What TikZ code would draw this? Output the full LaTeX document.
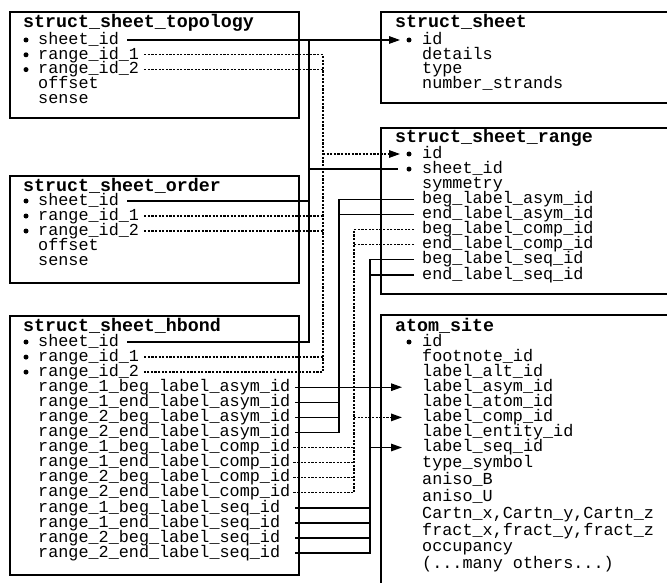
\documentclass[tikz,border=0pt]{standalone}
\usepackage{fontspec}
\setmonofont{Liberation Mono}
\usetikzlibrary{arrows.meta}

\tikzset{
  tbl/.style={draw, line width=1.9pt},
  ttl/.style={anchor=west, inner sep=0pt, text height=12pt, text depth=3pt,
    font=\ttfamily\bfseries\fontsize{18.3}{18.3}\selectfont},
  fld/.style={anchor=west, inner sep=0pt, text height=11pt, text depth=2.5pt,
    font=\ttfamily\fontsize{16.8}{15}\selectfont},
  key/.style={circle, fill, inner sep=0pt, minimum size=5pt},
  link/.style={line width=1.4pt},
  reflink/.style={link, dash pattern=on 2.2pt off 1.4pt},
  tip/.style={-{Triangle[length=11pt,width=7.5pt]}},
}

\begin{document}
\begin{tikzpicture}[x=1pt, y=-1pt]
\useasboundingbox (0,0) rectangle (667,583);
\clip (0,0) rectangle (667,583);

% ---------------- struct_sheet_topology
\draw[tbl] (10,12) rectangle (299,118);
\node[ttl] (topo) at (23,23) {struct\_sheet\_topology};
\node[fld] (topo-sheet) at (38,40) {sheet\_id};
\node[fld] (topo-r1) at (38,54.8) {range\_id\_1};
\node[fld] (topo-r2) at (38,69.6) {range\_id\_2};
\node[fld] (topo-off) at (38,84.4) {offset};
\node[fld] (topo-sense) at (38,99.2) {sense};
\node[key] (topo-sheet-k) at (26,40) {};
\node[key] (topo-r1-k) at (26,54.8) {};
\node[key] (topo-r2-k) at (26,69.6) {};

% ---------------- struct_sheet_order
\draw[tbl] (10,176) rectangle (299,283);
\node[ttl] (ord) at (23,186.7) {struct\_sheet\_order};
\node[fld] (ord-sheet) at (38,201) {sheet\_id};
\node[fld] (ord-r1) at (38,216) {range\_id\_1};
\node[fld] (ord-r2) at (38,231) {range\_id\_2};
\node[fld] (ord-off) at (38,246.3) {offset};
\node[fld] (ord-sense) at (38,261.6) {sense};
\node[key] (ord-sheet-k) at (26,201) {};
\node[key] (ord-r1-k) at (26,216) {};
\node[key] (ord-r2-k) at (26,231) {};

% ---------------- struct_sheet_hbond
\draw[tbl] (10,316) rectangle (299,575);
\node[ttl] (hb) at (23,327.2) {struct\_sheet\_hbond};
\node[fld] (hb-sheet) at (38,342) {sheet\_id};
\node[fld] (hb-r1) at (38,357.1) {range\_id\_1};
\node[fld] (hb-r2) at (38,372.1) {range\_id\_2};
\node[fld] (hb-a1) at (38,387.2) {range\_1\_beg\_label\_asym\_id};
\node[fld] (hb-a2) at (38,402.3) {range\_1\_end\_label\_asym\_id};
\node[fld] (hb-a3) at (38,417.4) {range\_2\_beg\_label\_asym\_id};
\node[fld] (hb-a4) at (38,432.4) {range\_2\_end\_label\_asym\_id};
\node[fld] (hb-c1) at (38,447.5) {range\_1\_beg\_label\_comp\_id};
\node[fld] (hb-c2) at (38,462.6) {range\_1\_end\_label\_comp\_id};
\node[fld] (hb-c3) at (38,477.6) {range\_2\_beg\_label\_comp\_id};
\node[fld] (hb-c4) at (38,492.7) {range\_2\_end\_label\_comp\_id};
\node[fld] (hb-s1) at (38,507.8) {range\_1\_beg\_label\_seq\_id};
\node[fld] (hb-s2) at (38,522.8) {range\_1\_end\_label\_seq\_id};
\node[fld] (hb-s3) at (38,537.9) {range\_2\_beg\_label\_seq\_id};
\node[fld] (hb-s4) at (38,553) {range\_2\_end\_label\_seq\_id};
\node[key] (hb-sheet-k) at (26,342) {};
\node[key] (hb-r1-k) at (26,357.1) {};
\node[key] (hb-r2-k) at (26,372.1) {};

% ---------------- struct_sheet
\draw[tbl] (381,12) rectangle (700,103);
\node[ttl] (ss) at (395,23) {struct\_sheet};
\node[fld] (ss-id) at (422,40) {id};
\node[fld] (ss-det) at (422,54.8) {details};
\node[fld] (ss-type) at (422,69.6) {type};
\node[fld] (ss-num) at (422,84.4) {number\_strands};
\node[key] (ss-id-k) at (409,40) {};

% ---------------- struct_sheet_range
\draw[tbl] (381,128) rectangle (700,294);
\node[ttl] (rg) at (395,137.8) {struct\_sheet\_range};
\node[fld] (rg-id) at (422,154) {id};
\node[fld] (rg-sheet) at (422,169.1) {sheet\_id};
\node[fld] (rg-sym) at (422,184.2) {symmetry};
\node[fld] (rg-basym) at (422,199.3) {beg\_label\_asym\_id};
\node[fld] (rg-easym) at (422,214.4) {end\_label\_asym\_id};
\node[fld] (rg-bcomp) at (422,229.5) {beg\_label\_comp\_id};
\node[fld] (rg-ecomp) at (422,244.6) {end\_label\_comp\_id};
\node[fld] (rg-bseq) at (422,259.7) {beg\_label\_seq\_id};
\node[fld] (rg-eseq) at (422,274.8) {end\_label\_seq\_id};
\node[key] (rg-id-k) at (409,154) {};
\node[key] (rg-sheet-k) at (409,169.1) {};

% ---------------- atom_site
\draw[tbl] (381,315) rectangle (700,620);
\node[ttl] (at) at (395,326.8) {atom\_site};
\node[fld] (at-id) at (422,342) {id};
\node[fld] (at-foot) at (422,357.1) {footnote\_id};
\node[fld] (at-alt) at (422,372.1) {label\_alt\_id};
\node[fld] (at-asym) at (422,387.2) {label\_asym\_id};
\node[fld] (at-atom) at (422,402.3) {label\_atom\_id};
\node[fld] (at-comp) at (422,417.4) {label\_comp\_id};
\node[fld] (at-ent) at (422,432.4) {label\_entity\_id};
\node[fld] (at-seq) at (422,447.5) {label\_seq\_id};
\node[fld] (at-type) at (422,463.5) {type\_symbol};
\node[fld] (at-ab) at (422,480.5) {aniso\_B};
\node[fld] (at-au) at (422,497.5) {aniso\_U};
\node[fld] (at-cartn) at (422,514.5) {Cartn\_x,Cartn\_y,Cartn\_z};
\node[fld] (at-fract) at (422,531) {fract\_x,fract\_y,fract\_z};
\node[fld] (at-occ) at (422,547.5) {occupancy};
\node[fld] (at-more) at (422,564) {(...many others...)};
\node[key] (at-id-k) at (409,342) {};

% ---------------- vertical runs of the connectors
\coordinate (busA) at (309,0);
\coordinate (busB) at (323,0);
\coordinate (busC) at (339,0);
\coordinate (busD) at (354,0);
\coordinate (busE) at (370,0);
\coordinate (hbx) at (295,0);

% sheet_id -> struct_sheet.id
\draw[link, tip] ([xshift=8pt]topo-sheet.east) -- ([xshift=-9pt]ss-id-k.center);
\draw[link] (topo-sheet.east -| busA) -- (hb-sheet.east -| busA) -- ([xshift=8pt]hb-sheet.east);
\draw[link] ([xshift=8pt]ord-sheet.east) -- (ord-sheet.east -| busA);
\draw[link] (rg-sheet.west -| busA) -- ([xshift=-11pt]rg-sheet-k.center);

% range_id -> struct_sheet_range.id
\draw[reflink] ([xshift=5pt]topo-r1.east) -- (topo-r1.east -| busB) -- (hb-r2.east -| busB) -- ([xshift=5pt]hb-r2.east);
\draw[reflink] ([xshift=5pt]topo-r2.east) -- (topo-r2.east -| busB);
\draw[reflink] ([xshift=5pt]ord-r1.east) -- (ord-r1.east -| busB);
\draw[reflink] ([xshift=5pt]ord-r2.east) -- (ord-r2.east -| busB);
\draw[reflink] ([xshift=5pt]hb-r1.east) -- (hb-r1.east -| busB);
\draw[reflink, tip] (rg-id.west -| busB) -- ([xshift=-9pt]rg-id-k.center);

% label_asym_id
\draw[link] ([xshift=-8pt]rg-basym.west) -| (hb-a4.east -| busC) -- (hb-a4.east -| hbx);
\draw[link] ([xshift=-8pt]rg-easym.west) -- (rg-easym.west -| busC);
\draw[link] (hb-a2.east -| hbx) -- (hb-a2.east -| busC);
\draw[link] (hb-a3.east -| hbx) -- (hb-a3.east -| busC);
\draw[link, tip] (hb-a1.east -| hbx) -- ([xshift=-20pt]at-asym.west);

% label_comp_id
\draw[reflink] ([xshift=-8pt]rg-bcomp.west) -| (hb-c4.east -| busD) -- ([xshift=3pt]hb-c4.east);
\draw[reflink] ([xshift=-8pt]rg-ecomp.west) -- (rg-ecomp.west -| busD);
\draw[reflink] ([xshift=3pt]hb-c1.east) -- (hb-c1.east -| busD);
\draw[reflink] ([xshift=3pt]hb-c2.east) -- (hb-c2.east -| busD);
\draw[reflink] ([xshift=3pt]hb-c3.east) -- (hb-c3.east -| busD);
\draw[reflink, tip] (at-comp.west -| busD) -- ([xshift=-20pt]at-comp.west);

% label_seq_id
\draw[link] ([xshift=-8pt]rg-bseq.west) -| (hb-s4.east -| busE) -- (hb-s4.east -| hbx);
\draw[link] ([xshift=-8pt]rg-eseq.west) -- (rg-eseq.west -| busE);
\draw[link] (hb-s1.east -| hbx) -- (hb-s1.east -| busE);
\draw[link] (hb-s2.east -| hbx) -- (hb-s2.east -| busE);
\draw[link] (hb-s3.east -| hbx) -- (hb-s3.east -| busE);
\draw[link, tip] (at-seq.west -| busE) -- ([xshift=-20pt]at-seq.west);
\end{tikzpicture}
\end{document}
